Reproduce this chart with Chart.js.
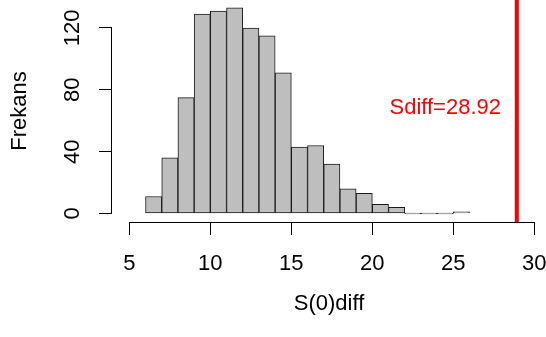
<!DOCTYPE html>
<html>
<head>
<meta charset="utf-8">
<script src="https://cdn.jsdelivr.net/npm/chart.js@4"></script>
<style>
  html, body { margin: 0; padding: 0; background: #fff; }
  canvas { display: block; }
</style>
</head>
<body>
<canvas id="hist" width="546" height="337"></canvas>
<script>
// histogram of S(0)diff, bins of width 1
const binStarts = [6, 7, 8, 9, 10, 11, 12, 13, 14, 15, 16, 17, 18, 19, 20, 21, 22, 23, 24, 25];
const counts = [11, 36, 75, 129, 131, 133, 120, 115, 91, 43, 44, 32, 16, 13, 6, 4, 0, 0, 0, 1];
const xTicks = [5, 10, 15, 20, 25, 30];
const yTicks = [0, 40, 80, 120];
const sdiff = 28.92;
const sdiffLabel = "Sdiff=" + sdiff.toFixed(2);

const FONT = "'Liberation Sans', Arial, sans-serif";

// R-style axis lines (only between first and last tick) + observed value line
const rStyle = {
  id: "rStyle",
  afterDatasetsDraw(chart) {
    const { ctx, chartArea, scales } = chart;
    const x = scales.x, y = scales.y;
    ctx.save();
    ctx.strokeStyle = "#000";
    ctx.lineWidth = 1;
    ctx.beginPath();
    const yb = Math.round(chartArea.bottom) + 0.5;
    ctx.moveTo(x.getPixelForValue(xTicks[0]), yb);
    ctx.lineTo(x.getPixelForValue(xTicks[xTicks.length - 1]), yb);
    const xl = Math.round(chartArea.left) - 0.5;
    ctx.moveTo(xl, y.getPixelForValue(yTicks[0]));
    ctx.lineTo(xl, y.getPixelForValue(yTicks[yTicks.length - 1]));
    ctx.stroke();

    // vertical line at the observed value
    const px = x.getPixelForValue(sdiff);
    ctx.strokeStyle = "#ff0000";
    ctx.lineWidth = 4;
    ctx.beginPath();
    ctx.moveTo(px, chartArea.top);
    ctx.lineTo(px, chartArea.bottom);
    ctx.stroke();

    ctx.fillStyle = "#ff0000";
    ctx.font = "22px " + FONT;
    ctx.textAlign = "center";
    ctx.textBaseline = "middle";
    ctx.fillText(sdiffLabel, x.getPixelForValue(24.5), y.getPixelForValue(68));
    ctx.restore();
  }
};

new Chart(document.getElementById("hist"), {
  type: "bar",
  data: {
    datasets: [{
      data: binStarts.map((b, i) => ({ x: b + 0.5, y: counts[i] })),
      backgroundColor: "#bebebe",
      borderColor: "#1a1a1a",
      borderWidth: 1,
      borderSkipped: false,
      minBarLength: 1,
      barPercentage: 1,
      categoryPercentage: 1
    }]
  },
  options: {
    responsive: false,
    animation: false,
    devicePixelRatio: 1,
    layout: { padding: 0 },
    plugins: {
      legend: { display: false },
      tooltip: { enabled: false }
    },
    scales: {
      x: {
        type: "linear",
        offset: false,
        min: 3.93,
        max: 30.72,
        afterBuildTicks: (s) => { s.ticks = xTicks.map(v => ({ value: v })); },
        afterFit: (s) => { s.height = 115; s.paddingLeft = 0; s.paddingRight = 0; },
        ticks: {
          autoSkip: false, maxRotation: 0, padding: 16,
          color: "#000", font: { family: FONT, size: 22 }
        },
        grid: { offset: false, drawOnChartArea: false, drawTicks: true, tickLength: 13, color: "#000", lineWidth: 1 },
        border: { display: false },
        title: {
          display: true, text: "S(0)diff", color: "#000",
          font: { family: FONT, size: 22 }, padding: { top: 4, bottom: 20 }
        }
      },
      y: {
        min: -5.5,
        max: 138.1,
        afterBuildTicks: (s) => { s.ticks = yTicks.map(v => ({ value: v })); },
        afterFit: (s) => { s.width = 112; s.paddingTop = 0; s.paddingBottom = 0; },
        ticks: {
          minRotation: 90, maxRotation: 90, crossAlign: "center", padding: 8,
          color: "#000", font: { family: FONT, size: 22 }
        },
        grid: { drawOnChartArea: false, drawTicks: true, tickLength: 13, color: "#000", lineWidth: 1 },
        border: { display: false },
        title: {
          display: true, text: "Frekans", color: "#000",
          font: { family: FONT, size: 22 }, padding: { top: 7, bottom: 4 }
        }
      }
    }
  },
  plugins: [rStyle]
});
</script>
</body>
</html>
